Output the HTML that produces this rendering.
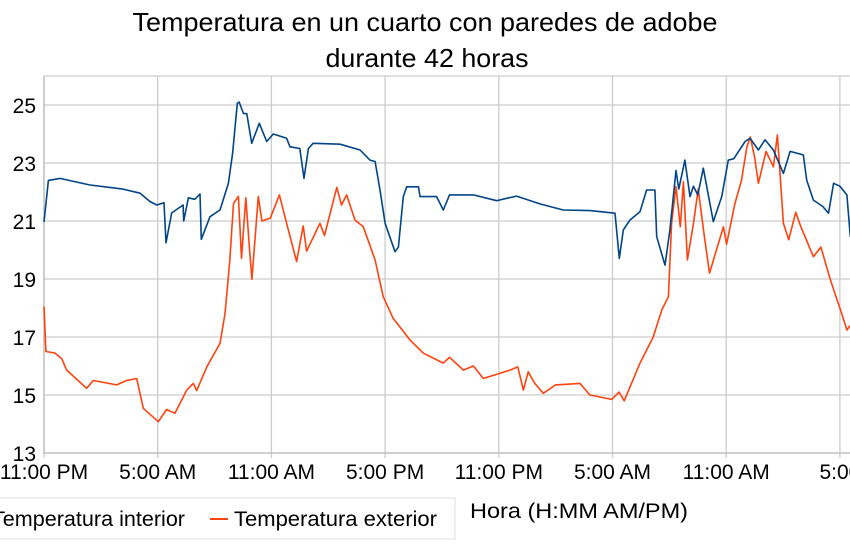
<!DOCTYPE html>
<html><head><meta charset="utf-8"><style>
body{margin:0;background:#fff;}
svg{font-family:"Liberation Sans",sans-serif;display:block}
</style></head><body>
<svg id="chart" width="850" height="550" viewBox="0 0 850 550">
<text x="425" y="31" text-anchor="middle" font-size="26" textLength="585" lengthAdjust="spacingAndGlyphs" fill="#000">Temperatura en un cuarto con paredes de adobe</text>
<text x="427" y="67" text-anchor="middle" font-size="26" textLength="203" lengthAdjust="spacingAndGlyphs" fill="#000">durante 42 horas</text>
<g id="grid"></g>
<g id="axes"></g>
<g id="series"></g>
<rect x="-2" y="498" width="457" height="41" fill="#fff" stroke="#ddd"/>
<text x="-8" y="526" font-size="21" textLength="193" lengthAdjust="spacingAndGlyphs" fill="#000">Temperatura interior</text>
<line x1="210" y1="519" x2="228" y2="519" stroke="#ff420e" stroke-width="2"/>
<text x="234" y="526" font-size="21" textLength="203" lengthAdjust="spacingAndGlyphs" fill="#000">Temperatura exterior</text>
<text x="470" y="518" font-size="21" textLength="218" lengthAdjust="spacingAndGlyphs" fill="#000">Hora (H:MM AM/PM)</text>
</svg>
<script>
const yTicks=[13,15,17,19,21,23,25];
const xTickHours=[0,6,12,18,24,30,36,42];
const xTickLabels=["11:00 PM","5:00 AM","11:00 AM","5:00 PM","11:00 PM","5:00 AM","11:00 AM","5:00"];
const interiorHours=[0,0.23,0.84,2.43,4.17,5.07,5.6,5.95,6.33,6.44,6.74,7.34,7.37,7.62,7.96,8.23,8.3,8.76,9.29,9.73,9.95,10.2,10.3,10.52,10.7,10.96,11.36,11.75,12.1,12.8,12.98,13.5,13.72,13.95,14.2,15.62,16.68,17.2,17.47,17.73,18.0,18.52,18.7,18.96,19.14,19.76,19.84,20.72,21.07,21.4,22.66,23.89,24.94,26.17,27.4,28.81,30.13,30.36,30.57,30.92,31.45,31.8,32.24,32.33,32.77,33.03,33.35,33.5,33.82,34.09,34.27,34.5,34.79,35.32,35.76,36.11,36.4,37.0,37.26,37.7,38.05,38.49,39.02,39.37,40.07,40.25,40.6,41.1,41.4,41.67,42.0,42.37,42.55];
const interiorTemps=[20.97,22.4,22.47,22.24,22.1,21.96,21.67,21.55,21.63,20.25,21.28,21.55,21.0,21.8,21.75,21.93,20.37,21.15,21.38,22.3,23.33,25.06,25.1,24.71,24.7,23.68,24.37,23.74,24.0,23.85,23.56,23.5,22.47,23.5,23.68,23.65,23.45,23.1,23.05,22.07,20.92,19.94,20.1,21.84,22.18,22.18,21.84,21.84,21.38,21.9,21.9,21.7,21.86,21.59,21.38,21.36,21.27,19.71,20.69,21.03,21.32,22.07,22.07,20.46,19.48,20.69,22.74,22.1,23.1,21.84,22.2,21.9,22.82,20.98,21.84,23.1,23.15,23.74,23.85,23.45,23.8,23.45,22.64,23.4,23.28,22.41,21.72,21.5,21.27,22.3,22.2,21.9,20.46];
const exteriorHours=[0,0.1,0.57,0.93,1.2,2.25,2.6,3.83,4.36,4.89,5.24,6.03,6.47,6.91,7.53,7.88,8.06,8.59,9.29,9.55,9.8,10.0,10.26,10.42,10.65,10.86,10.97,11.31,11.5,11.94,12.42,12.8,13.33,13.68,13.86,14.56,14.8,15.45,15.7,15.97,16.41,16.85,17.47,17.9,18.43,19.31,20.02,21.07,21.4,22.13,22.66,23.18,24.59,25.0,25.3,25.55,25.9,26.35,27.0,28.28,28.81,29.96,30.35,30.62,31.45,32.15,32.6,32.95,33.12,33.35,33.58,33.74,33.95,34.27,34.52,34.85,35.12,35.85,36.02,36.46,36.81,37.09,37.27,37.5,37.7,38.1,38.49,38.7,39.02,39.3,39.67,39.94,40.6,41.0,41.5,42.03,42.37,42.55];
const exteriorTemps=[18.05,16.5,16.45,16.26,15.86,15.23,15.5,15.35,15.5,15.57,14.54,14.08,14.5,14.37,15.17,15.4,15.15,15.97,16.78,17.8,19.6,21.6,21.85,19.71,21.8,19.9,18.99,21.84,21.0,21.1,21.9,20.92,19.6,20.83,19.96,20.92,20.5,22.16,21.55,21.9,21.03,20.8,19.66,18.39,17.64,16.9,16.44,16.1,16.3,15.86,16.0,15.57,15.86,15.97,15.17,15.8,15.4,15.06,15.35,15.4,15.0,14.85,15.1,14.8,16.1,17.0,17.93,18.39,20.92,22.18,20.8,22.35,19.66,20.9,22.1,20.46,19.2,20.8,20.2,21.6,22.4,23.56,23.9,23.2,22.3,23.4,22.87,23.97,20.92,20.35,21.3,20.8,19.77,20.1,18.97,17.93,17.24,17.4];

const NS="http://www.w3.org/2000/svg";
const X0=44,X1=850,Y0=453,YT=76,PXH=18.95;
const xs=h=>X0+h*PXH;
const ys=v=>453-(v-13)*29;
function mk(tag,attrs,parent){const e=document.createElementNS(NS,tag);for(const k in attrs)e.setAttribute(k,attrs[k]);parent.appendChild(e);return e;}
const gridG=document.getElementById('grid'),axesG=document.getElementById('axes'),seriesG=document.getElementById('series');
yTicks.forEach(v=>{
  const l=mk('line',{x1:X0,x2:X1,y1:ys(v),y2:ys(v),stroke:'#ccc','stroke-width':1.3},gridG);
  
  
  const t=mk('text',{x:36,y:ys(v)+8,'text-anchor':'end','font-size':21,fill:'#000'},axesG);
  t.textContent=v;
  
  
});
xTickHours.forEach((h,i)=>{
  const l=mk('line',{x1:xs(h),x2:xs(h),y1:YT,y2:Y0+5,stroke:'#ccc','stroke-width':1.3},gridG);
  
  
  const t=mk('text',{x:xs(h),y:479,'text-anchor':'middle','font-size':21,fill:'#000'},axesG);
  t.textContent=xTickLabels[i];
  
  
});
const topBorder=mk('line',{x1:X0,x2:X1,y1:YT,y2:YT,stroke:'#ccc','stroke-width':1.3},gridG);


const yAxisLine=mk('line',{x1:X0,x2:X0,y1:YT,y2:Y0,stroke:'#bbb','stroke-width':1.3},axesG);


const xAxisLine=mk('line',{x1:X0,x2:X1,y1:Y0,y2:Y0,stroke:'#bbb','stroke-width':1.3},axesG);


function pathD(hs,vs){return hs.map((h,i)=>(i?'L':'M')+xs(h).toFixed(1)+','+ys(vs[i]).toFixed(1)).join('');}
const pe=mk('path',{d:pathD(exteriorHours,exteriorTemps),fill:'none',stroke:'#ff420e','stroke-width':1.6,'stroke-linejoin':'round'},seriesG);


const pi=mk('path',{d:pathD(interiorHours,interiorTemps),fill:'none',stroke:'#004586','stroke-width':1.6,'stroke-linejoin':'round'},seriesG);


</script>
</body></html>
